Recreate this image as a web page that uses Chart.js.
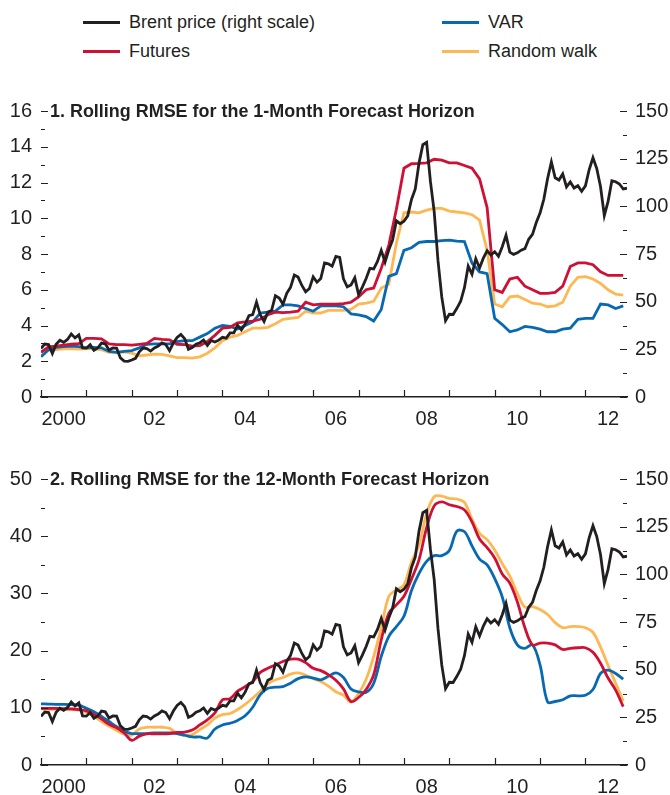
<!DOCTYPE html>
<html>
<head>
<meta charset="utf-8">
<script src="https://cdn.jsdelivr.net/npm/chart.js@4.4.1/dist/chart.umd.min.js"></script>
<style>
  body { margin: 0; background: #fff; }
  #page { position: relative; width: 670px; height: 795px; overflow: hidden;
          font-family: "Liberation Sans", Arial, sans-serif; color: #231f20; }
  canvas { position: absolute; left: 0; }
  .legend-item { position: absolute; font-size: 18px; line-height: 24px; white-space: nowrap; }
  .legend-item span.swatch { position: absolute; left: 0; top: 11px; width: 37px; height: 3px; }
  .legend-item span.label { position: absolute; left: 46px; top: 0; }
  .panel-title { position: absolute; left: 50px; font-size: 19px; font-weight: bold; line-height: 24px;
                 white-space: nowrap; transform-origin: 0 50%; }
</style>
</head>
<body>
<div id="page">
  <div id="legend"></div>
  <canvas id="chart1" width="670" height="350" style="top:80px"></canvas>
  <canvas id="chart2" width="670" height="345" style="top:450px"></canvas>
  <div class="panel-title" id="title1" style="top:99px">1. Rolling RMSE for the 1-Month Forecast Horizon</div>
  <div class="panel-title" id="title2" style="top:467px">2. Rolling RMSE for the 12-Month Forecast Horizon</div>
</div>
<script>
// x axis labels (every other year)
const labelYears = [2000, 2002, 2004, 2006, 2008, 2010, 2012];
const labelText = ['2000', '02', '04', '06', '08', '10', '12'];

// Brent price, monthly, Jan 2000 - Dec 2012 (right scale)
const brent = [
  25.5, 27.8, 27.5, 22.8, 27.7, 29.8, 28.7, 30.2, 33.1, 31.0, 32.6, 25.7,
  25.6, 27.5, 24.5, 25.7, 28.3, 27.9, 24.6, 25.7, 25.6, 20.5, 18.8, 18.7,
  19.4, 20.3, 23.7, 25.7, 25.4, 24.1, 25.7, 26.7, 28.4, 27.5, 24.3, 28.3,
  31.2, 32.8, 30.6, 25.0, 25.9, 27.7, 28.4, 29.9, 27.1, 29.6, 28.8, 29.8,
  31.3, 30.9, 33.6, 33.6, 37.6, 35.2, 38.2, 42.7, 43.2, 49.8, 43.1, 39.6,
  44.5, 45.5, 53.1, 51.9, 48.7, 54.4, 57.5, 64.0, 62.9, 58.5, 55.2, 56.9,
  63.0, 60.2, 62.1, 70.3, 69.8, 68.6, 73.7, 73.2, 62.0, 57.8, 58.8, 62.5,
  53.7, 57.6, 62.1, 67.5, 67.2, 71.1, 76.9, 70.8, 77.2, 82.3, 92.4, 90.9,
  92.2, 95.0, 103.6, 109.1, 122.8, 132.3, 133.5, 113.2, 97.2, 71.6, 52.5, 40.0,
  43.4, 43.3, 46.5, 50.2, 57.3, 68.6, 64.4, 72.5, 67.7, 72.8, 76.7, 74.5,
  76.2, 73.8, 78.8, 84.8, 76.0, 74.8, 75.6, 77.0, 77.8, 82.7, 85.3, 91.5,
  96.5, 103.7, 114.6, 123.3, 115.0, 113.8, 117.0, 110.2, 112.8, 109.6, 110.8, 107.9,
  110.7, 119.3, 125.5, 119.8, 110.3, 95.2, 102.6, 113.4, 112.9, 111.7, 109.1, 109.5
];

// rolling RMSE, every two months from Jan 2000 to Nov 2012
const futures1M = [
  2.5, 2.8, 2.85, 2.9, 2.95, 2.98, 3.28, 3.28, 3.25, 2.97, 2.93, 2.93,
  2.9, 2.95, 3.0, 3.28, 3.22, 3.2, 2.95, 2.93, 2.85, 2.87, 3.1, 3.45,
  3.85, 3.9, 4.15, 4.2, 4.25, 4.35, 4.6, 4.75, 4.72, 4.75, 4.8, 5.3,
  5.15, 5.2, 5.2, 5.2, 5.22, 5.3, 5.6, 6.0, 6.1, 7.2, 8.5, 10.5,
  12.8, 13.05, 13.07, 13.1, 13.3, 13.25, 13.1, 13.1, 12.95, 12.8, 12.2, 10.6,
  6.0, 5.85, 6.6, 6.7, 6.2, 6.0, 5.8, 5.8, 5.85, 6.2, 7.3, 7.5,
  7.5, 7.4, 7.0, 6.8, 6.8, 6.8
];
const var1M = [
  2.25, 2.65, 2.78, 2.82, 2.85, 2.82, 2.75, 2.78, 2.75, 2.55, 2.5, 2.55,
  2.6, 2.75, 2.95, 2.97, 2.97, 2.97, 3.1, 3.15, 3.15, 3.35, 3.55, 3.85,
  4.0, 3.95, 3.8, 4.0, 4.2, 4.7, 4.75, 4.8, 5.15, 5.15, 5.1, 4.95,
  4.8, 5.1, 5.1, 5.1, 5.05, 4.65, 4.6, 4.5, 4.25, 4.9, 6.75, 6.9,
  8.2, 8.35, 8.65, 8.7, 8.7, 8.75, 8.78, 8.72, 8.7, 7.5, 7.0, 6.9,
  4.4, 4.05, 3.65, 3.75, 3.95, 3.9, 3.8, 3.65, 3.65, 3.8, 3.85, 4.35,
  4.4, 4.4, 5.2, 5.15, 4.95, 5.1
];
const randomWalk1M = [
  2.55, 2.62, 2.65, 2.7, 2.7, 2.68, 2.7, 2.7, 2.65, 2.5, 2.5, 2.52,
  2.45, 2.3, 2.35, 2.4, 2.38, 2.3, 2.2, 2.2, 2.18, 2.25, 2.45, 2.75,
  3.15, 3.35, 3.45, 3.65, 3.85, 3.85, 3.9, 4.1, 4.35, 4.4, 4.45, 4.8,
  4.7, 4.7, 4.85, 4.85, 4.85, 4.9, 5.2, 5.25, 5.35, 6.1, 6.3, 8.6,
  10.3, 10.35, 10.3, 10.45, 10.55, 10.55, 10.4, 10.35, 10.3, 10.2, 9.9, 8.2,
  5.2, 5.05, 5.6, 5.65, 5.45, 5.25, 5.2, 5.05, 5.1, 5.3, 6.2, 6.7,
  6.73, 6.6, 6.35, 6.0, 5.75, 5.7
];
const futures12M = [
  9.9, 9.9, 9.9, 9.85, 9.8, 9.7, 9.45, 8.85, 8.05, 7.1, 6.5, 5.6,
  4.3, 5.05, 5.45, 5.45, 5.45, 5.5, 5.7, 5.75, 6.1, 7.0, 7.9, 9.1,
  11.4, 11.6, 12.9, 13.7, 14.6, 16.2, 16.9, 17.5, 18.1, 18.5, 18.5, 17.9,
  16.9, 16.5, 15.8, 14.8, 13.3, 11.1, 11.8, 13.2, 15.8, 21.9, 26.5, 28.0,
  29.5, 32.5, 35.9, 41.5, 45.3, 46.0, 45.5, 45.2, 44.6, 42.5, 39.5, 38.0,
  36.2, 33.4, 31.8, 28.5, 24.0, 21.0, 21.3, 21.3, 21.0, 20.2, 20.4, 20.5,
  20.5, 19.7, 17.8, 15.2, 13.1, 10.2
];
const var12M = [
  10.7, 10.65, 10.6, 10.6, 10.55, 10.45, 9.9, 9.3, 8.5, 7.6, 6.7, 5.9,
  5.5, 5.5, 5.5, 5.6, 5.6, 5.6, 5.5, 5.2, 4.9, 4.9, 4.7, 6.3,
  7.0, 7.3, 7.8, 8.6, 10.1, 12.3, 13.4, 13.6, 13.7, 14.3, 15.1, 15.4,
  15.2, 14.9, 15.5, 16.1, 15.3, 13.3, 12.8, 12.7, 14.3, 19.0, 22.5, 24.2,
  26.0, 30.5, 33.5, 35.6, 36.6, 36.6, 37.5, 40.9, 40.8, 38.3, 36.0, 35.0,
  32.6, 29.4, 24.0, 21.0, 20.4, 21.0, 17.5, 11.0, 11.1, 11.4, 12.1, 12.1,
  12.2, 13.2, 16.0, 16.6, 16.0, 15.0
];
const randomWalk12M = [
  9.8, 9.75, 9.75, 9.75, 9.7, 9.6, 9.2, 8.5, 7.6, 6.8, 6.05, 5.4,
  5.2, 6.3, 6.6, 6.6, 6.6, 6.4, 5.5, 5.2, 5.3, 6.2, 7.0, 8.2,
  8.8, 9.0, 9.7, 10.6, 11.7, 12.9, 14.2, 14.9, 15.3, 15.9, 16.1, 15.7,
  15.1, 14.6, 13.8, 12.8, 12.2, 11.0, 12.5, 15.0, 19.0, 24.0, 29.5, 30.6,
  31.5, 35.5, 38.5, 44.0, 46.9, 47.0, 46.6, 46.5, 45.9, 43.0, 40.5, 39.4,
  37.6, 35.2, 33.0, 30.0, 27.6, 27.7, 27.2, 26.3, 24.9, 24.0, 24.2, 24.2,
  24.0, 23.2, 20.6, 17.4, 14.3, 11.2
];

const INK = '#231f20';
const colors = { brent: '#231f20', futures: '#cf1035', varModel: '#0869b3', randomWalk: '#fdb853' };
const FONT = '"Liberation Sans", Arial, sans-serif';

// legend (two columns, two rows)
const legendItems = [
  { text: 'Brent price (right scale)', color: colors.brent, left: 83, top: 10 },
  { text: 'Futures', color: colors.futures, left: 83, top: 39 },
  { text: 'VAR', color: colors.varModel, left: 442, top: 10 },
  { text: 'Random walk', color: colors.randomWalk, left: 442, top: 39 }
];
const legendEl = document.getElementById('legend');
legendItems.forEach(it => {
  const d = document.createElement('div');
  d.className = 'legend-item';
  d.style.left = it.left + 'px';
  d.style.top = it.top + 'px';
  d.innerHTML = '<span class="swatch" style="background:' + it.color + '"></span><span class="label">' + it.text + '</span>';
  legendEl.appendChild(d);
});

// the original uses a condensed bold face: squeeze the titles to its width
[['title1', 425], ['title2', 439]].forEach(([id, w]) => {
  const el = document.getElementById(id);
  el.style.transform = 'scaleX(' + (w / el.scrollWidth) + ')';
});

const monthly = arr => arr.map((v, i) => ({ x: 2000 + i / 12, y: v }));
const bimonthly = arr => arr.map((v, i) => ({ x: 2000 + i / 6, y: v }));

// short tick marks drawn inside the plot, as in the original
const innerTicks = {
  id: 'innerTicks',
  afterDatasetsDraw(chart, args, opts) {
    const { ctx, chartArea: a, scales } = chart;
    ctx.save();
    ctx.strokeStyle = INK;
    ctx.lineWidth = 1.2;
    ctx.beginPath();
    let n = 0;
    for (let v = 0; v <= opts.leftMax + 1e-6; v += opts.leftMinor, n++) {
      const y = Math.round(scales.y.getPixelForValue(v)) + 0.5;
      ctx.moveTo(a.left, y);
      ctx.lineTo(a.left + (n % 2 === 0 ? 7 : 4), y);
    }
    n = 0;
    for (let v = 0; v <= 150 + 1e-6; v += 12.5, n++) {
      const y = Math.round(scales.y1.getPixelForValue(v)) + 0.5;
      ctx.moveTo(a.right, y);
      ctx.lineTo(a.right - (n % 2 === 0 ? 7 : 4), y);
    }
    for (let yr = 2000; yr <= 2012; yr++) {
      const x = Math.round(scales.x.getPixelForValue(yr)) + 0.5;
      ctx.moveTo(x, a.bottom);
      ctx.lineTo(x, a.bottom - 7);
    }
    ctx.stroke();
    ctx.restore();
  }
};

function makeChart(canvasId, leftMax, leftStep, padTop, xHeight, series, smooth) {
  const line = (label, data, color, axis) => ({
    label, data, borderColor: color, backgroundColor: color, yAxisID: axis,
    borderWidth: 2.8, pointRadius: 0, fill: false,
    tension: axis === 'y' && smooth ? 0.35 : 0
  });
  return new Chart(document.getElementById(canvasId), {
    type: 'line',
    data: {
      datasets: [
        line('Brent price (right scale)', monthly(brent), colors.brent, 'y1'),
        line('Futures', bimonthly(series[0]), colors.futures, 'y'),
        line('VAR', bimonthly(series[1]), colors.varModel, 'y'),
        line('Random walk', bimonthly(series[2]), colors.randomWalk, 'y')
      ]
    },
    options: {
      responsive: false,
      animation: false,
      layout: { padding: { top: padTop, left: 0, right: 0, bottom: 0 } },
      plugins: {
        legend: { display: false },
        tooltip: { enabled: false },
        innerTicks: { leftMax: leftMax, leftMinor: leftStep / 2 }
      },
      scales: {
        x: {
          type: 'linear', min: 2000, max: 2012 + 11 / 12,
          afterBuildTicks: s => { s.ticks = labelYears.map(y => ({ value: y + 0.5 })); },
          afterFit: s => { s.height = xHeight; },
          grid: { display: false, drawTicks: false },
          border: { display: true, color: INK, width: 1.4 },
          ticks: {
            autoSkip: false, maxRotation: 0, padding: 10, color: INK,
            font: { family: FONT, size: 20 },
            callback: (v, i) => labelText[i]
          }
        },
        y: {
          position: 'left', min: 0, max: leftMax,
          afterFit: s => { s.width = 41; },
          grid: { display: false, drawTicks: false },
          border: { display: false },
          ticks: { stepSize: leftStep, padding: 9, color: INK, font: { family: FONT, size: 20 } }
        },
        y1: {
          position: 'right', min: 0, max: 150,
          afterFit: s => { s.width = 43; },
          grid: { display: false, drawTicks: false },
          border: { display: false },
          ticks: { stepSize: 25, padding: 8, color: INK, font: { family: FONT, size: 20 } }
        }
      }
    },
    plugins: [innerTicks]
  });
}

makeChart('chart1', 16, 2, 31, 33, [futures1M, var1M, randomWalk1M], false);
makeChart('chart2', 50, 10, 29, 30, [futures12M, var12M, randomWalk12M], true);
</script>
</body>
</html>
